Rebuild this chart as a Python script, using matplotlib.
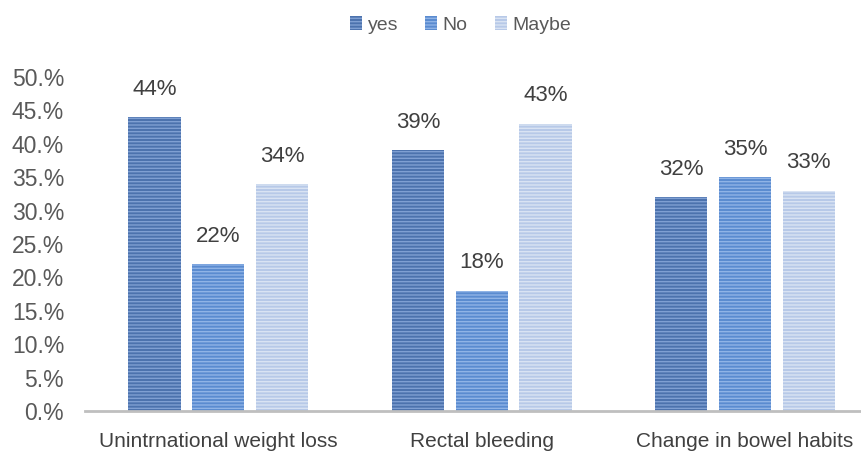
import matplotlib.pyplot as plt
import numpy as np
from matplotlib.ticker import FuncFormatter

plt.rcParams['font.family'] = ['Liberation Sans', 'DejaVu Sans']

CATEGORIES = ["Unintrnational weight loss", "Rectal bleeding", "Change in bowel habits"]
SERIES = ["yes", "No", "Maybe"]
YES = [44, 39, 32]
NO = [22, 18, 35]
MAYBE = [34, 43, 33]

FACE = ["#4c72ad", "#5a8bd0", "#b7c9e8"]
STRIPE = ["#7f9fd2", "#8fb3e6", "#d9e3f3"]
plt.rcParams['hatch.linewidth'] = 1.0

fig = plt.figure(figsize=(8.61, 4.51), dpi=100)
ax = fig.add_axes([0.0987, 0.0887, 0.9013, 0.7406])

x = np.arange(len(CATEGORIES))
width = 0.198
step = 0.242
for i, (name, vals) in enumerate(zip(SERIES, [YES, NO, MAYBE])):
    pos = x + (i - 1) * step
    bars = ax.bar(pos, vals, width, color=FACE[i], edgecolor=STRIPE[i],
                  hatch='-----', linewidth=0, label=name)
    for b, v in zip(bars, vals):
        ax.text(b.get_x() + b.get_width() / 2, v + 2.6, f"{v}%",
                ha='center', va='bottom', fontsize=16, color='#404040')

ax.set_ylim(0, 50)
ax.set_yticks(np.arange(0, 51, 5))
ax.yaxis.set_major_formatter(FuncFormatter(lambda v, p: f"{v:.0f}.%"))
ax.set_xlim(-0.506, 2.44)
ax.set_xticks(x)
ax.set_xticklabels(CATEGORIES, fontsize=15, color='#404040')
ax.tick_params(axis='y', length=0, labelsize=16.5, labelcolor='#595959', pad=15)
ax.tick_params(axis='x', length=0, pad=15)

for s in ['top', 'right', 'left']:
    ax.spines[s].set_visible(False)
ax.spines['bottom'].set_color('#bfbfbf')
ax.spines['bottom'].set_linewidth(2)

fig.legend(loc='center', bbox_to_anchor=(0.535, 0.945), ncol=3, frameon=False,
           handlelength=0.6, handleheight=0.7, handletextpad=0.3,
           columnspacing=1.4, fontsize=14, labelcolor='#595959')

fig.savefig("out.png", dpi=100)
